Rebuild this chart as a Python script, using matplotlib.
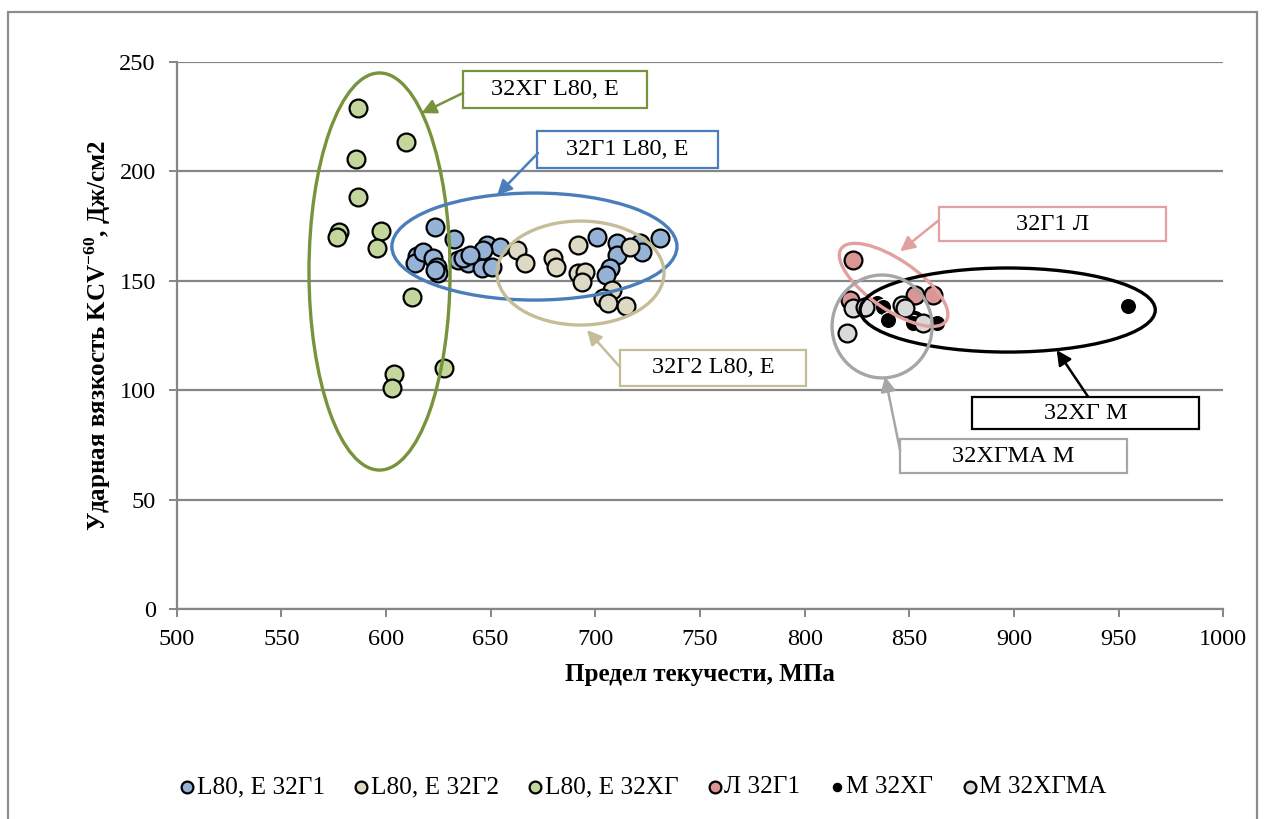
import matplotlib
matplotlib.use("Agg")
import matplotlib.pyplot as plt
from matplotlib.patches import Ellipse, Rectangle

plt.rcParams['font.family'] = ['Liberation Serif', 'DejaVu Serif']
plt.rcParams['mathtext.fontset'] = 'custom'
plt.rcParams['mathtext.rm'] = 'Liberation Serif'
plt.rcParams['mathtext.bf'] = 'Liberation Serif:bold'

# ---------------- data ----------------
series_labels = ["L80, Е 32Г1", "L80, Е 32Г2", "L80, Е 32ХГ", "Л 32Г1", "М 32ХГ", "М 32ХГМА"]

blue_x = [623.4, 632.5, 614.7, 613.9, 617.8, 622.6, 624.2, 625.0, 623.4, 634.5, 639.3, 636.9, 645.7,
          648.1, 654.5, 650.5, 646.5, 700.7, 710.2, 721.4, 730.9, 722.2, 710.2, 707.0, 705.0, 640.0]
blue_y = [174.8, 169.0, 161.6, 158.1, 163.4, 160.3, 156.5, 153.5, 155.0, 159.6, 158.1, 160.3, 155.8,
          166.4, 165.6, 156.5, 164.1, 170.2, 167.2, 167.2, 169.4, 163.4, 161.8, 155.8, 152.7, 161.8]

tan_x = [662.4, 666.4, 679.9, 681.2, 691.9, 691.9, 695.1, 693.5, 716.6, 707.8, 703.8, 706.2, 714.7]
tan_y = [164.1, 158.1, 160.3, 156.5, 166.4, 153.5, 154.2, 149.7, 165.6, 145.9, 142.1, 139.8, 138.6]

green_x = [586.8, 609.6, 585.7, 586.8, 577.7, 576.4, 597.5, 595.8, 612.4, 627.7, 603.8, 602.7]
green_y = [228.9, 213.6, 205.6, 188.2, 172.2, 170.2, 172.8, 164.9, 142.5, 110.1, 107.4, 101.2]

pink_x = [823.3, 852.7, 861.5, 828.9, 821.7]
pink_y = [159.6, 143.6, 143.6, 138.2, 141.3]

black_x = [834.4, 837.6, 840.0, 852.8, 851.9, 863.1, 954.7]
black_y = [139.8, 138.2, 132.2, 132.9, 130.7, 130.7, 138.6]

gray_x = [823.3, 820.1, 828.9, 846.4, 848.0, 856.7]
gray_y = [137.5, 126.1, 138.1, 139.0, 137.5, 130.7]

x_ticks = [500, 550, 600, 650, 700, 750, 800, 850, 900, 950, 1000]
y_ticks = [0, 50, 100, 150, 200, 250]

# group annotations: label, colour, ellipse (cx, cy, w, h, angle), box (x0, x1, y0, y1), arrow start, arrow tip
groups = [
    ("32ХГ L80, Е", "#77933C", (596.9, 154.3, 67.4, 181.4, 0), (636.9, 724.8, 228.8, 246.0), (636.9, 235.9), (616.9, 226.6)),
    ("32Г1 L80, Е", "#4A7EBB", (670.9, 165.7, 136.2, 48.9, 0), (672.0, 758.8, 201.5, 218.6), (672.6, 208.4), (653.1, 189.2)),
    ("32Г2 L80, Е", "#C4BD97", (692.9, 153.6, 79.8, 47.5, 0), (711.8, 800.7, 102.0, 118.5), (711.8, 110.6), (696.0, 127.6)),
    ("32Г1 Л", "#E3A0A0", (842.5, 148.2, 60.0, 23.0, -33), (864.2, 972.7, 168.4, 183.6), (864.2, 177.8), (845.6, 163.5)),
    ("32ХГ М", "#000000", (897.0, 136.7, 141.0, 38.4, 0), (880.1, 988.6, 82.2, 97.1), (935.4, 97.1), (920.4, 118.4)),
    ("32ХГМА М", "#A6A6A6", (837.0, 129.2, 47.8, 47.0, 0), (845.6, 953.9, 62.1, 77.7), (845.6, 72.5), (838.4, 106.3)),
]

FS = 17.5
LFS = 18.2
GRID = "#868686"

fig = plt.figure(figsize=(12.64, 8.19), dpi=100)
ax = fig.add_axes([176.7 / 1264, 1 - 609.3 / 819, (1223.3 - 176.7) / 1264, (609.3 - 62) / 819])

# outer frame
fig.patches.append(Rectangle((7.5 / 1264, -0.05), (1257 - 7.5) / 1264, 1.05 - 11.5 / 819,
                             transform=fig.transFigure, fill=False, ec="#8C8C8C", lw=1.6))

ax.set_xlim(500, 1000)
ax.set_ylim(0, 250)
ax.set_xticks(x_ticks)
ax.set_yticks(y_ticks)
ax.tick_params(axis='both', labelsize=FS, colors=GRID, labelcolor='black', length=6, width=1.4, direction='out')
ax.tick_params(axis='y', pad=9)
ax.tick_params(axis='x', pad=8)
for s in ['top', 'right']:
    ax.spines[s].set_visible(False)
for s in ['left', 'bottom']:
    ax.spines[s].set_color(GRID)
    ax.spines[s].set_linewidth(1.6)
ax.yaxis.grid(True, color=GRID, lw=1.6)
ax.set_axisbelow(True)

S = 165
ax.scatter(blue_x, blue_y, s=S, c="#95B3D7", edgecolors='black', linewidths=1.6, zorder=3, label=series_labels[0])
ax.scatter(tan_x, tan_y, s=S, c="#DDD9C4", edgecolors='black', linewidths=1.6, zorder=3, label=series_labels[1])
ax.scatter(green_x, green_y, s=S, c="#C3D69B", edgecolors='black', linewidths=1.6, zorder=3, label=series_labels[2])
ax.scatter(pink_x, pink_y, s=S, c="#DA9694", edgecolors='black', linewidths=1.6, zorder=3, label=series_labels[3])
ax.scatter(black_x, black_y, s=135, c="black", edgecolors='white', linewidths=0.8, zorder=3, label=series_labels[4])
ax.scatter(gray_x, gray_y, s=S, c="#D9D9D9", edgecolors='black', linewidths=1.6, zorder=3, label=series_labels[5])

for text, col, ell, box, start, tip in groups:
    cx, cy, w, h, ang = ell
    ax.add_patch(Ellipse((cx, cy), w, h, angle=ang, fill=False, ec=col, lw=2.4, zorder=4))
    x0, x1, y0, y1 = box
    ax.add_patch(Rectangle((x0, y0), x1 - x0, y1 - y0, fc='white', ec=col, lw=1.6, zorder=5, clip_on=False))
    ax.text((x0 + x1) / 2, (y0 + y1) / 2, text, ha='center', va='center', fontsize=FS, zorder=6)
    ax.annotate("", xy=tip, xytext=start,
                arrowprops=dict(arrowstyle='-|>', color=col, lw=1.8, mutation_scale=22, shrinkA=0, shrinkB=0),
                zorder=5)

ax.set_xlabel("Предел текучести, МПа", fontsize=18, fontweight='bold')
ax.set_ylabel(r"Ударная вязкость KCV$^{\mathbf{-60}}$, Дж/см2", fontsize=18, fontweight='bold')
ax.xaxis.set_label_coords((700 - 176.7) / 1046.6, (609.3 - 675) / 547.3)
ax.xaxis.label.set_va('center')
ax.yaxis.set_label_coords((98 - 176.7) / 1046.6, 0.5)
ax.yaxis.label.set_va('center')

fig.legend(loc='center', bbox_to_anchor=(644 / 1264, 1 - 787 / 819), ncol=6, frameon=False,
           fontsize=LFS, handlelength=0.5, handletextpad=0.12, columnspacing=1.2, markerscale=0.66,
           scatterpoints=1, borderpad=0)

fig.savefig("out.png", dpi=100)
